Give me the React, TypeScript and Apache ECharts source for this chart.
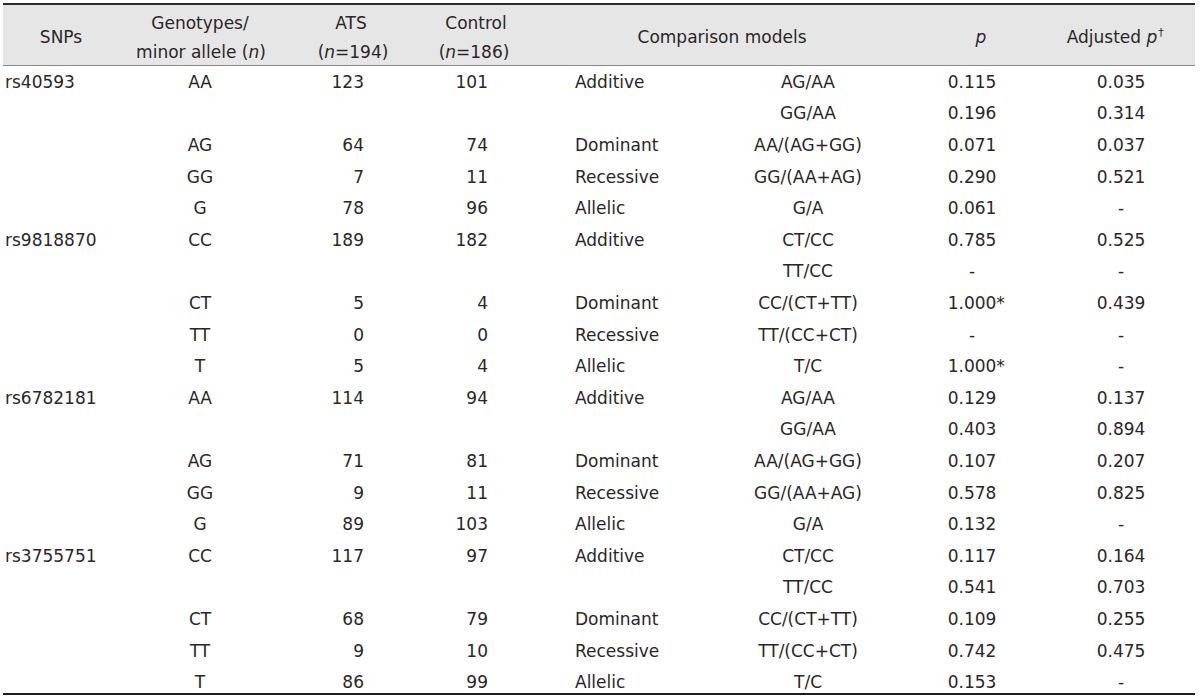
import React, { useEffect, useRef } from "react";
import * as echarts from "echarts";

// ---------- data ----------
const snps = ["rs40593", "", "", "", "", "rs9818870", "", "", "", "", "rs6782181", "", "", "", "", "rs3755751", "", "", "", ""];
const genotypes = ["AA", "", "AG", "GG", "G", "CC", "", "CT", "TT", "T", "AA", "", "AG", "GG", "G", "CC", "", "CT", "TT", "T"];
const atsCounts = ["123", "", "64", "7", "78", "189", "", "5", "0", "5", "114", "", "71", "9", "89", "117", "", "68", "9", "86"];
const controlCounts = ["101", "", "74", "11", "96", "182", "", "4", "0", "4", "94", "", "81", "11", "103", "97", "", "79", "10", "99"];
const models = ["Additive", "", "Dominant", "Recessive", "Allelic", "Additive", "", "Dominant", "Recessive", "Allelic", "Additive", "", "Dominant", "Recessive", "Allelic", "Additive", "", "Dominant", "Recessive", "Allelic"];
const comparisons = ["AG/AA", "GG/AA", "AA/(AG+GG)", "GG/(AA+AG)", "G/A", "CT/CC", "TT/CC", "CC/(CT+TT)", "TT/(CC+CT)", "T/C", "AG/AA", "GG/AA", "AA/(AG+GG)", "GG/(AA+AG)", "G/A", "CT/CC", "TT/CC", "CC/(CT+TT)", "TT/(CC+CT)", "T/C"];
const pValues = ["0.115", "0.196", "0.071", "0.290", "0.061", "0.785", "-", "1.000*", "-", "1.000*", "0.129", "0.403", "0.107", "0.578", "0.132", "0.117", "0.541", "0.109", "0.742", "0.153"];
const adjustedP = ["0.035", "0.314", "0.037", "0.521", "-", "0.525", "-", "0.439", "-", "-", "0.137", "0.894", "0.207", "0.825", "-", "0.164", "0.703", "0.255", "0.475", "-"];

const rowIndex = snps.map((_, i) => i);
const rowLabels = rowIndex.map((i) => String(i));

// ---------- style ----------
const FONT_FAMILY = "DejaVu Sans";
const FONT_SIZE = 17;
const TEXT_COLOR = "#2a2627";

const measure = (() => {
  let ctx: CanvasRenderingContext2D | null = null;
  return (t: string) => {
    if (!ctx) {
      ctx = document.createElement("canvas").getContext("2d");
    }
    if (!ctx) return t.length * 10;
    ctx.font = `${FONT_SIZE}px "${FONT_FAMILY}"`;
    return ctx.measureText(t).width;
  };
})();

type Col = { values: string[]; x: number; align: "left" | "center" | "right" };
const columns: Col[] = [
  { values: snps, x: 5, align: "left" },
  { values: genotypes, x: 200, align: "center" },
  { values: atsCounts, x: 364, align: "right" },
  { values: controlCounts, x: 488, align: "right" },
  { values: models, x: 575, align: "left" },
  { values: comparisons, x: 808, align: "center" },
  { values: pValues, x: 972, align: "center" },
  { values: adjustedP, x: 1121, align: "center" },
];

const textStyle = (extra: any = {}) => ({
  fontFamily: FONT_FAMILY,
  fontSize: FONT_SIZE,
  fill: TEXT_COLOR,
  verticalAlign: "middle",
  ...extra,
});

export default function App() {
  const ref = useRef<HTMLDivElement>(null);
  useEffect(() => {
    if (!ref.current) return;
    const chart = echarts.init(ref.current, undefined, { renderer: "svg" });

    const renderItem = (params: any, api: any) => {
      const i = api.value(1);
      const children: any[] = [];
      columns.forEach((col) => {
        const v = col.values[i];
        if (!v) return;
        const pt = api.coord([col.x, i]);
        if (v.endsWith("*")) {
          const base = v.slice(0, -1);
          children.push({
            type: "text",
            x: pt[0],
            y: pt[1],
            style: textStyle({ text: base, align: "center" }),
          });
          children.push({
            type: "text",
            x: pt[0] + measure(base) / 2,
            y: pt[1],
            style: textStyle({ text: "*", align: "left" }),
          });
        } else {
          children.push({
            type: "text",
            x: pt[0],
            y: pt[1],
            style: textStyle({ text: v, align: col.align }),
          });
        }
      });
      return { type: "group", children };
    };

    const rich = {
      i: { fontFamily: FONT_FAMILY, fontSize: FONT_SIZE, fontStyle: "italic", color: TEXT_COLOR },
    };
    const headerText = (text: string, x: number, y: number, align = "center") => ({
      type: "text",
      x,
      y,
      style: { ...textStyle({ text, align }), rich },
      z: 10,
    });
    const adjLabel = "Adjusted ";
    const adjW = measure(adjLabel) + measure("p") + 6;
    const adjLeft = 1115 - adjW / 2;

    chart.setOption({
      animation: false,
      grid: { left: 0, right: 0, top: 66, bottom: 2, containLabel: false },
      xAxis: { type: "value", min: 0, max: 1200, show: false },
      yAxis: { type: "category", data: rowLabels, inverse: true, show: false },
      graphic: [
        { type: "rect", shape: { x: 3, y: 5, width: 1192, height: 60 }, style: { fill: "#e6e6e6" }, z: 1 },
        { type: "line", shape: { x1: 3, y1: 4, x2: 1195, y2: 4 }, style: { stroke: "#2b2b2b", lineWidth: 2 }, z: 2 },
        { type: "line", shape: { x1: 3, y1: 65.5, x2: 1195, y2: 65.5 }, style: { stroke: "#8a8a8a", lineWidth: 1 }, z: 2 },
        { type: "line", shape: { x1: 3, y1: 694, x2: 1195, y2: 694 }, style: { stroke: "#1e1e1e", lineWidth: 2 }, z: 2 },
        headerText("SNPs", 61, 37),
        headerText("Genotypes/", 200, 23),
        headerText("minor allele ({i|n})", 201, 52),
        headerText("ATS", 351, 23),
        headerText("({i|n}=194)", 353, 52),
        headerText("Control", 476, 23),
        headerText("({i|n}=186)", 474, 52),
        headerText("Comparison models", 722, 37),
        headerText("{i|p}", 981, 37),
        headerText("Adjusted {i|p}", adjLeft, 37, "left"),
        {
          type: "text",
          x: adjLeft + measure(adjLabel) + measure("p") + 1,
          y: 32,
          style: { text: "†", fontFamily: FONT_FAMILY, fontSize: 11, fill: TEXT_COLOR, align: "left", verticalAlign: "middle" },
          z: 10,
        },
      ],
      series: [
        {
          type: "custom",
          renderItem,
          clip: false,
          data: rowIndex.map((i) => [0, i]),
          encode: { x: 0, y: 1 },
        },
      ],
    });
    return () => chart.dispose();
  }, []);
  return (
    <div
      ref={ref}
      style={{ position: "fixed", left: 0, top: 0, width: 1200, height: 700, background: "#fff" }}
    />
  );
}
